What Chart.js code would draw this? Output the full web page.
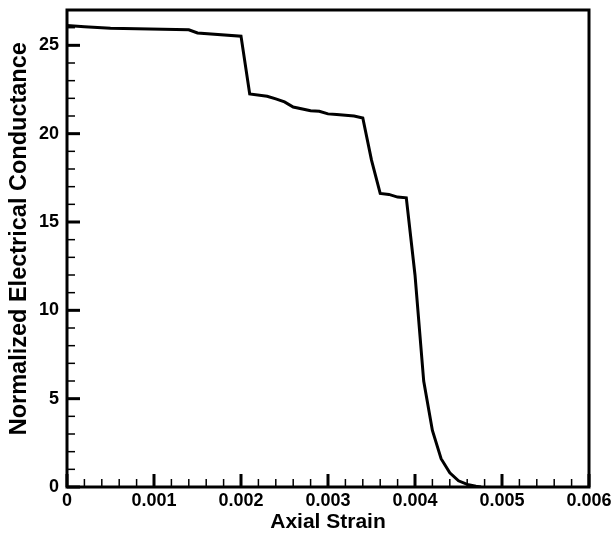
<!DOCTYPE html>
<html>
<head>
<meta charset="utf-8">
<script src="https://cdn.jsdelivr.net/npm/chart.js@4.4.0/dist/chart.umd.min.js"></script>
<style>
    html, body { margin: 0; padding: 0; background: #fff; }
    #grafico { display: block; }
</style>
</head>
<body>
<canvas id="grafico" width="613" height="536"></canvas>
<script>
const deformacao = [0, 0.0002, 0.0005, 0.0014, 0.0015, 0.002, 0.0021, 0.0023, 0.0024, 0.0025, 0.0026, 0.0028, 0.0029, 0.003, 0.0031, 0.0033, 0.0034, 0.0035, 0.0036, 0.0037, 0.0038, 0.0039, 0.004, 0.0041, 0.0042, 0.0043, 0.0044, 0.0045, 0.0046, 0.0047, 0.00476];
const condutancia = [26.12, 26.05, 25.97, 25.88, 25.7, 25.52, 22.25, 22.12, 21.97, 21.8, 21.51, 21.3, 21.27, 21.12, 21.08, 21.0, 20.89, 18.5, 16.62, 16.56, 16.41, 16.37, 12.0, 6.0, 3.2, 1.6, 0.8, 0.35, 0.15, 0.04, 0];

const ticksX = [0, 0.001, 0.002, 0.003, 0.004, 0.005, 0.006];
const ticksY = [0, 5, 10, 15, 20, 25];

const fonteTicks = { family: "'Liberation Sans', Arial, sans-serif", size: 18, weight: 'bold' };
const fonteTituloX = { family: "'Liberation Sans', Arial, sans-serif", size: 21, weight: 'bold' };
const fonteTituloY = { family: "'Liberation Sans', Arial, sans-serif", size: 23.5, weight: 'bold' };

// moldura e marcas para dentro do grafico
const molduraPlugin = {
    id: 'moldura',
    afterDatasetsDraw(chart) {
        const ctx = chart.ctx;
        const area = chart.chartArea;
        const sx = chart.scales.x;
        const sy = chart.scales.y;
        ctx.save();
        ctx.strokeStyle = '#000';

        for (let i = 0; i <= 30; i++) {
            const px = sx.getPixelForValue(i * 0.0002);
            const tam = (i % 5 === 0) ? 13 : 8;
            ctx.lineWidth = (i % 5 === 0) ? 3 : 1.5;
            ctx.beginPath();
            ctx.moveTo(px, area.bottom);
            ctx.lineTo(px, area.bottom - tam);
            ctx.stroke();
        }
        for (let i = 0; i <= 27; i++) {
            const py = sy.getPixelForValue(i);
            const tam = (i % 5 === 0) ? 13 : 8;
            ctx.lineWidth = (i % 5 === 0) ? 3 : 1.5;
            ctx.beginPath();
            ctx.moveTo(area.left, py);
            ctx.lineTo(area.left + tam, py);
            ctx.stroke();
        }

        ctx.lineWidth = 3;
        ctx.strokeRect(area.left, area.top, area.right - area.left, area.bottom - area.top);
        ctx.restore();
    }
};

const ctx = document.getElementById("grafico").getContext("2d");

new Chart(ctx, {
    type: 'line',
    data: {
        datasets: [{
            data: deformacao.map((x, i) => ({ x: x, y: condutancia[i] })),
            borderColor: '#000',
            borderWidth: 3,
            pointRadius: 0,
            fill: false,
            tension: 0
        }]
    },
    options: {
        responsive: false,
        animation: false,
        layout: {
            padding: { left: 0, right: 24, top: 10, bottom: 0 }
        },
        plugins: {
            legend: { display: false },
            tooltip: { enabled: false }
        },
        scales: {
            x: {
                type: 'linear',
                min: 0,
                max: 0.006,
                afterFit: s => {
                    s.height = 49;
                    s.paddingLeft = 0;
                    s.paddingRight = 0;
                },
                afterBuildTicks: s => { s.ticks = ticksX.map(v => ({ value: v })); },
                grid: { display: false, drawTicks: false },
                border: { display: false },
                ticks: {
                    color: '#000',
                    font: fonteTicks,
                    padding: 3,
                    maxRotation: 0,
                    autoSkip: false,
                    callback: v => v === 0 ? '0' : v.toFixed(3)
                },
                title: {
                    display: true,
                    text: 'Axial Strain',
                    color: '#000',
                    font: fonteTituloX,
                    padding: { top: 0, bottom: 1 }
                }
            },
            y: {
                min: 0,
                max: 27,
                afterFit: s => {
                    s.width = 67;
                    s.paddingTop = 0;
                    s.paddingBottom = 0;
                },
                afterBuildTicks: s => { s.ticks = ticksY.map(v => ({ value: v })); },
                grid: { display: false, drawTicks: false },
                border: { display: false },
                ticks: {
                    color: '#000',
                    font: fonteTicks,
                    padding: 8
                },
                title: {
                    display: true,
                    text: '   Normalized Electrical Conductance',
                    color: '#000',
                    font: fonteTituloY,
                    padding: { top: 5, bottom: 0 }
                }
            }
        }
    },
    plugins: [molduraPlugin]
});
</script>
</body>
</html>
